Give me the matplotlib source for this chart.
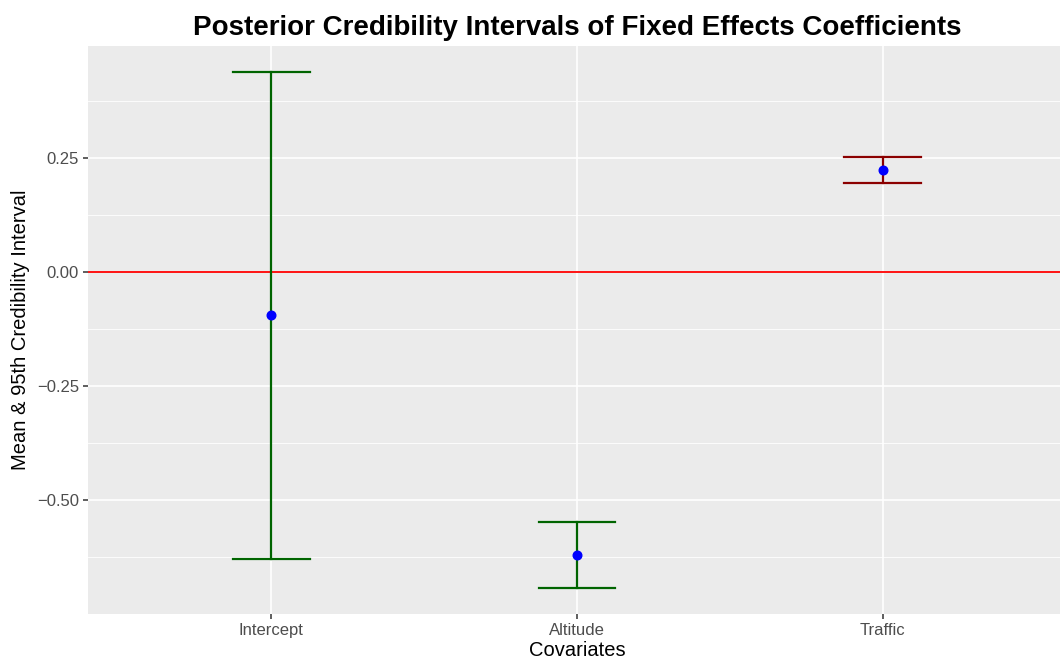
import numpy as np
import matplotlib
matplotlib.use('Agg')
from matplotlib import pyplot as plt
from matplotlib.ticker import FixedLocator

plt.rcParams['font.family'] = ['Liberation Sans', 'DejaVu Sans']

# posterior summaries of the fixed effects
covariates = ['Intercept', 'Altitude', 'Traffic']
post_mean = [-0.095, -0.620, 0.222]
lower_95 = [-0.628, -0.693, 0.195]
upper_95 = [0.438, -0.548, 0.252]
# intervals that exclude zero are drawn in dark red
bar_colors = ['#006400', '#006400', '#8B0000']

fig = plt.figure(figsize=(10.6, 6.64), dpi=100)
# panel runs a little past the right edge of the canvas
ax = fig.add_axes([0.083, 0.0753, 0.9226, 0.8554])
ax.set_facecolor('#EBEBEB')
for s in ax.spines.values():
    s.set_visible(False)

x = np.arange(1, len(covariates) + 1)
cap = 0.125
for xi, lo, hi, c in zip(x, lower_95, upper_95, bar_colors):
    ax.plot([xi, xi], [lo, hi], color=c, lw=1.6, zorder=3)
    ax.plot([xi - cap, xi + cap], [lo, lo], color=c, lw=1.6, zorder=3)
    ax.plot([xi - cap, xi + cap], [hi, hi], color=c, lw=1.6, zorder=3)
ax.plot(x, post_mean, 'o', color='#0000FF', ms=6.2, zorder=4)
ax.axhline(0, color='#FF0000', lw=1.3, zorder=2.5)

ymin, ymax = min(lower_95), max(upper_95)
pad = 0.05 * (ymax - ymin)
ax.set_ylim(ymin - pad, ymax + pad)
ax.set_xlim(0.4, len(covariates) + 0.6)

ax.set_xticks(x)
ax.set_xticklabels(covariates)
ax.set_yticks([-0.5, -0.25, 0.0, 0.25])
ax.set_yticklabels(['\u22120.50', '\u22120.25', '0.00', '0.25'])
ax.yaxis.set_minor_locator(FixedLocator([-0.625, -0.375, -0.125, 0.125, 0.375]))
ax.tick_params(axis='both', which='major', labelsize=12, labelcolor='#4D4D4D',
               color='#333333', length=3.5, width=1.1, pad=3)
ax.tick_params(axis='y', which='minor', length=0)
ax.grid(True, which='major', color='white', lw=1.2, zorder=0)
ax.grid(True, which='minor', axis='y', color='white', lw=0.6, zorder=0)
ax.set_axisbelow(True)

ax.set_xlabel('Covariates', fontsize=14.5, labelpad=2)
ax.set_ylabel('Mean & 95th Credibility Interval', fontsize=14.5, labelpad=5)
ax.set_title('Posterior Credibility Intervals of Fixed Effects Coefficients',
             fontsize=20, fontweight='bold', pad=8)

fig.savefig('out.png', dpi=100)
